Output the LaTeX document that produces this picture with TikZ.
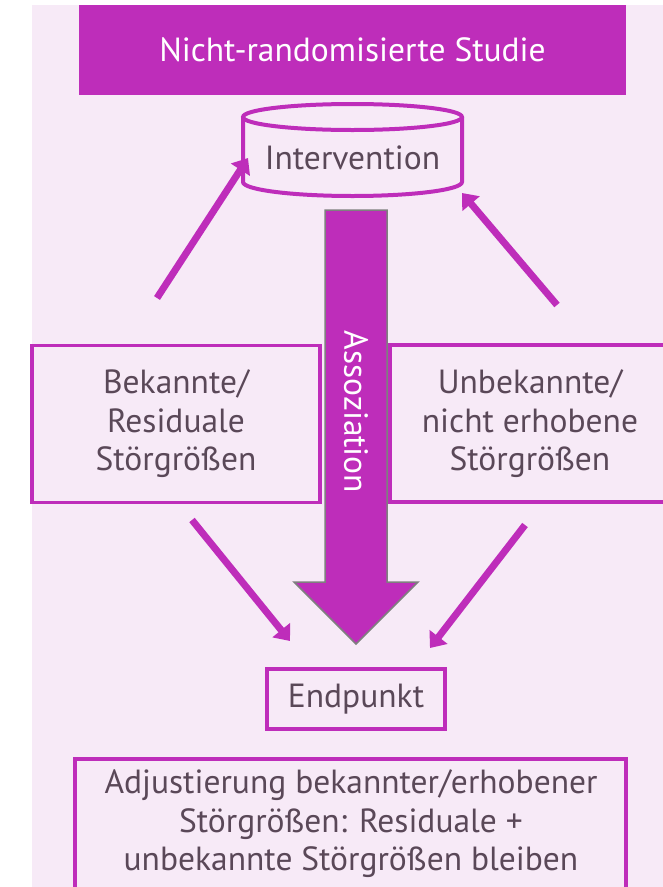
\documentclass[tikz,border=0pt]{standalone}
\usepackage{fontspec}
\setmainfont{PT Sans}
\usetikzlibrary{arrows.meta}
\definecolor{bgpink}{HTML}{F7EAF7}
\definecolor{mag}{HTML}{BE2DBA}
\definecolor{txt}{HTML}{5A4858}
\definecolor{arrgray}{HTML}{7F7F7F}
\tikzset{
  every node/.style={font=\fontsize{33.5}{38.5}\selectfont, text=txt},
  framebox/.style={draw=mag, line width=3.5pt, fill=bgpink, align=center},
  thinarrow/.style={draw=mag, line width=7pt, -{Triangle[length=14pt,width=22pt]}},
}
\begin{document}
\begin{tikzpicture}[x=1pt,y=-1pt]
\clip (0,0) rectangle (663,887);
\fill[white] (0,0) rectangle (663,887);
\fill[bgpink] (32,5) rectangle (670,900);
% title
\node[fill=mag, minimum width=547pt, minimum height=90pt, inner sep=0pt, text=white] (title) at (352.5,50) {Nicht-randomisierte Studie};
% cylinder
\draw[mag, line width=4pt, fill=bgpink] (243,117) -- (243,182) arc[start angle=180, end angle=360, x radius=109.5pt, y radius=14pt] -- (462,117);
\draw[mag, line width=4pt, fill=bgpink] (352.5,117) ellipse[x radius=109.5pt, y radius=13pt];
\node (int) at (352.5,158) {Intervention};
% big arrow
\draw[arrgray, line width=1.5pt, fill=mag] (325,210) -- (387,210) -- (387,582) -- (418,582) -- (356,644) -- (294,582) -- (325,582) -- cycle;
\node[rotate=-90, text=white] (asso) at (356,412) {Assoziation};
% side boxes
\node[framebox, minimum width=288pt, minimum height=157pt, inner sep=0pt] (known) at (176,424) {Bekannte/\\Residuale\\Störgrößen};
\draw[mag, line width=3.5pt, fill=bgpink] (390,345) rectangle (680,502);
\node[align=center] (unknown) at (530,424) {Unbekannte/\\nicht erhobene\\Störgrößen};
% endpoint
\node[framebox, minimum width=178pt, minimum height=60pt, inner sep=0pt] (end) at (356,699) {Endpunkt};
% bottom box
\draw[mag, line width=3.5pt, fill=bgpink] (75,759) rectangle (626,900);
\node[align=center] (adj) at (351,824) {Adjustierung bekannter/erhobener\\Störgrößen: Residuale +\\unbekannte Störgrößen bleiben};
% thin arrows
\coordinate (a1s) at (157,298);
\coordinate (a1e) at (248,158);
\coordinate (a2s) at (557,305);
\coordinate (a2e) at (462,193);
\coordinate (a3s) at (192,520);
\coordinate (a3e) at (290,641);
\coordinate (a4s) at (525,525);
\coordinate (a4e) at (430,648);
\draw[thinarrow] (a1s) -- (a1e);
\draw[thinarrow] (a2s) -- (a2e);
\draw[thinarrow] (a3s) -- (a3e);
\draw[thinarrow] (a4s) -- (a4e);
\end{tikzpicture}
\end{document}
